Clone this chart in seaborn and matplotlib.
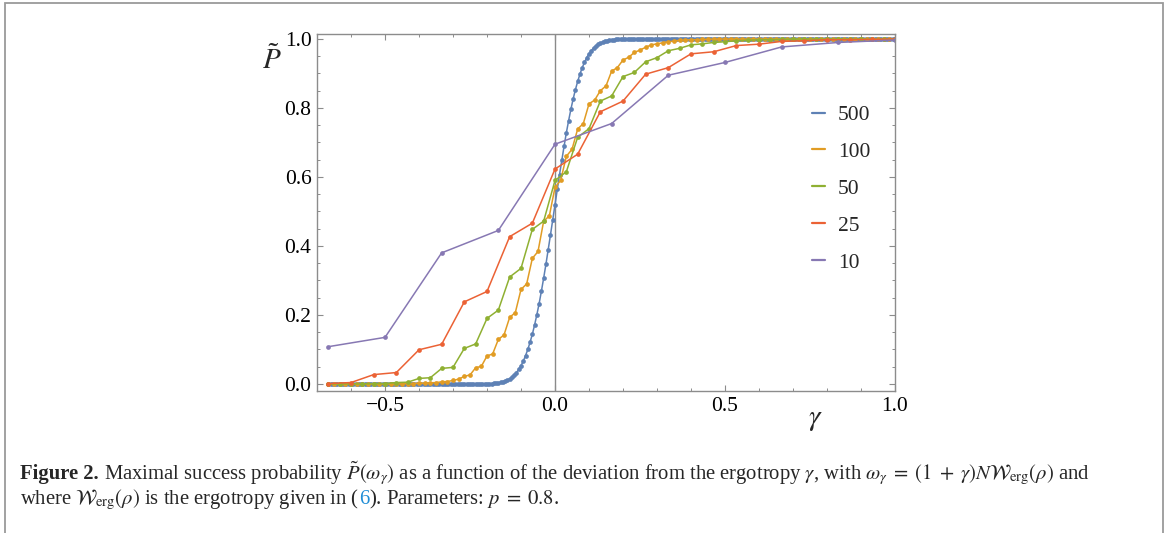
import numpy as np
import pandas as pd
import matplotlib
matplotlib.use("Agg")
import matplotlib.pyplot as plt
from matplotlib.lines import Line2D
from matplotlib.patches import Rectangle
from matplotlib.ticker import MultipleLocator
import seaborn as sns

# ---------------- data ----------------
series_labels = ["500", "100", "50", "25", "10"]
series_colors = ["#5E81B5", "#E19C24", "#8FB032", "#EB6235", "#8778B3"]

# N = 500, step 1/150 in gamma
gamma_500 = np.arange(-100, 151) / 150
p_500 = ([0.0] * 70 +
         [0.0005, 0.0008, 0.0011, 0.0016, 0.0023, 0.0032, 0.0044, 0.0061, 0.0083, 0.0112,
          0.0149, 0.0197, 0.0256, 0.033, 0.042, 0.053, 0.066, 0.082, 0.100, 0.121,
          0.144, 0.171, 0.201, 0.233, 0.269, 0.307, 0.347, 0.389, 0.432, 0.476,
          0.520, 0.564, 0.607, 0.649, 0.689, 0.728, 0.763, 0.796, 0.826, 0.853,
          0.877, 0.898, 0.917, 0.932, 0.946, 0.957, 0.966, 0.974, 0.980, 0.985,
          0.988, 0.991, 0.994, 0.995, 0.997, 0.998, 0.998, 0.999] +
         [1.0] * 123)

# N = 100, step 1/60
gamma_100 = np.arange(-40, 61) / 60
p_100 = ([0.0] * 14 +
         [0.001, 0.001, 0.002, 0.002, 0.003, 0.004, 0.006, 0.007, 0.010, 0.014,
          0.022, 0.026, 0.047, 0.051, 0.081, 0.087, 0.129, 0.142, 0.193, 0.207,
          0.274, 0.290, 0.364, 0.384, 0.472, 0.487, 0.570, 0.590, 0.660, 0.680,
          0.739, 0.755, 0.812, 0.823, 0.850, 0.864, 0.907, 0.917, 0.939, 0.947,
          0.961, 0.968, 0.976, 0.983, 0.986, 0.989, 0.992, 0.994, 0.996, 0.997,
          0.998, 0.998, 0.999, 0.999] +
         [1.0] * 33)

# N = 50, step 1/30
gamma_50 = np.arange(-20, 31) / 30
p_50 = ([0.0] * 4 +
        [0.001, 0.001, 0.004, 0.005, 0.016, 0.018, 0.045, 0.048, 0.103, 0.116,
         0.190, 0.214, 0.310, 0.335, 0.448, 0.472, 0.590, 0.615, 0.715, 0.740,
         0.820, 0.835, 0.891, 0.903, 0.934, 0.946, 0.966, 0.973, 0.983, 0.986,
         0.990, 0.992, 0.995, 0.996, 0.998, 0.998, 0.999] +
        [1.0] * 10)

# N = 25, step 1/15
gamma_25 = np.arange(-10, 16) / 15
p_25 = [0.001, 0.004, 0.027, 0.033, 0.099, 0.115, 0.238, 0.268, 0.427, 0.466,
        0.623, 0.666, 0.789, 0.820, 0.898, 0.917, 0.957, 0.963, 0.981, 0.985,
        0.993, 0.995, 0.998, 0.998, 0.999, 1.0]

# N = 10, step 1/6
gamma_10 = np.arange(-4, 7) / 6
p_10 = [0.108, 0.135, 0.380, 0.445, 0.695, 0.755, 0.895, 0.932, 0.977, 0.990, 0.997]

x_ticks = [-0.5, 0.0, 0.5, 1.0]
x_tick_labels = ["\u22120.5", "0.0", "0.5", "1.0"]
y_ticks = [0.0, 0.2, 0.4, 0.6, 0.8, 1.0]
y_tick_labels = ["0.0", "0.2", "0.4", "0.6", "0.8", "1.0"]

# ---------------- build long-form frame ----------------
frames = []
for lab, g, p in zip(series_labels,
                     [gamma_500, gamma_100, gamma_50, gamma_25, gamma_10],
                     [p_500, p_100, p_50, p_25, p_10]):
    frames.append(pd.DataFrame({"gamma": g, "P": p, "N": lab}))
df = pd.concat(frames, ignore_index=True)

# ---------------- style ----------------
sns.set_style("ticks")
plt.rcParams["font.family"] = ["Liberation Serif", "DejaVu Serif"]
plt.rcParams["mathtext.fontset"] = "stix"

W, H = 1168, 533
fig = plt.figure(figsize=(W / 100, H / 100), dpi=100)
fig.patch.set_facecolor("white")

# outer border of the figure box
fig.patches.append(Rectangle((5 / W, -0.05), (1163 - 5) / W, 1.05 - 3 / H,
                             transform=fig.transFigure, fill=False,
                             edgecolor="#9a9a9a", linewidth=1.3))

ax = fig.add_axes([317 / W, (H - 391) / H, (895 - 317) / W, (391 - 34) / H])

palette = dict(zip(series_labels, series_colors))
sns.lineplot(data=df, x="gamma", y="P", hue="N", hue_order=series_labels,
             palette=palette, marker="o", markersize=3.4, markeredgewidth=0,
             linewidth=1.1, legend=False, estimator=None, sort=False, ax=ax)

ax.axvline(0.0, color="#8a8a8a", linewidth=1.0, zorder=0.5)

ax.set_xlim(-0.70, 1.0)
ax.set_ylim(-0.0205, 1.0145)
ax.set_xticks(x_ticks)
ax.set_xticklabels(x_tick_labels)
ax.set_yticks(y_ticks)
ax.set_yticklabels(y_tick_labels)
ax.xaxis.set_minor_locator(MultipleLocator(0.1))
ax.yaxis.set_minor_locator(MultipleLocator(0.05))
frame_c = "#8c8c8c"
for s in ax.spines.values():
    s.set_color(frame_c)
    s.set_linewidth(1.0)
ax.tick_params(which="both", direction="in", top=True, right=True,
               color=frame_c, labelsize=15.5, labelcolor="black")
ax.tick_params(which="major", length=4.5, width=0.8, pad=4)
ax.tick_params(which="minor", length=2.5, width=0.7)
ax.set_xlabel("")
ax.set_ylabel("")

# axis labels placed like the reference
fig.text(272 / W, 1 - 60 / H, r"$\tilde{P}$", fontsize=21, ha="center", va="center")
fig.text(815 / W, 1 - 420 / H, r"$\gamma$", fontsize=21, ha="center", va="center")

# legend
handles = [Line2D([], [], color=c, linewidth=1.6) for c in series_colors]
leg = ax.legend(handles, series_labels, loc="upper left",
                bbox_to_anchor=((812 - 317) / (895 - 317), (391 - 105) / (391 - 34)),
                frameon=False, fontsize=15.5, handlelength=0.6, handletextpad=0.6,
                labelspacing=0.78, borderpad=0, borderaxespad=0)

# caption
fig.canvas.draw()
renderer = fig.canvas.get_renderer()


def draw_line(pieces, x0, yb, size):
    x = x0
    for s, kw in pieces:
        t = fig.text(x / W, 1 - yb / H, s, ha="left", va="baseline", fontsize=size, **kw)
        bb = t.get_window_extent(renderer)
        x += bb.width


cap_size = 14.9
line1 = [("Figure 2.", {"fontweight": "bold"}),
         (r" Maximal success probability $\tilde{P}(\omega_\gamma)$ as a function of the deviation "
          r"from the ergotropy $\gamma$, with $\omega_\gamma\;=\;(1\;+\;\gamma)N\mathcal{W}_{\rm erg}(\rho)$ and", {})]
line2 = [(r"where $\mathcal{W}_{\rm erg}(\rho)$ is the ergotropy given in (", {}),
         ("6", {"color": "#1f8dd6"}),
         (r"). Parameters: $p\;=\;0.8$.", {})]
draw_line(line1, 20, 479, cap_size)
draw_line(line2, 20, 504, cap_size)

fig.savefig("out.png", dpi=100, facecolor="white")
